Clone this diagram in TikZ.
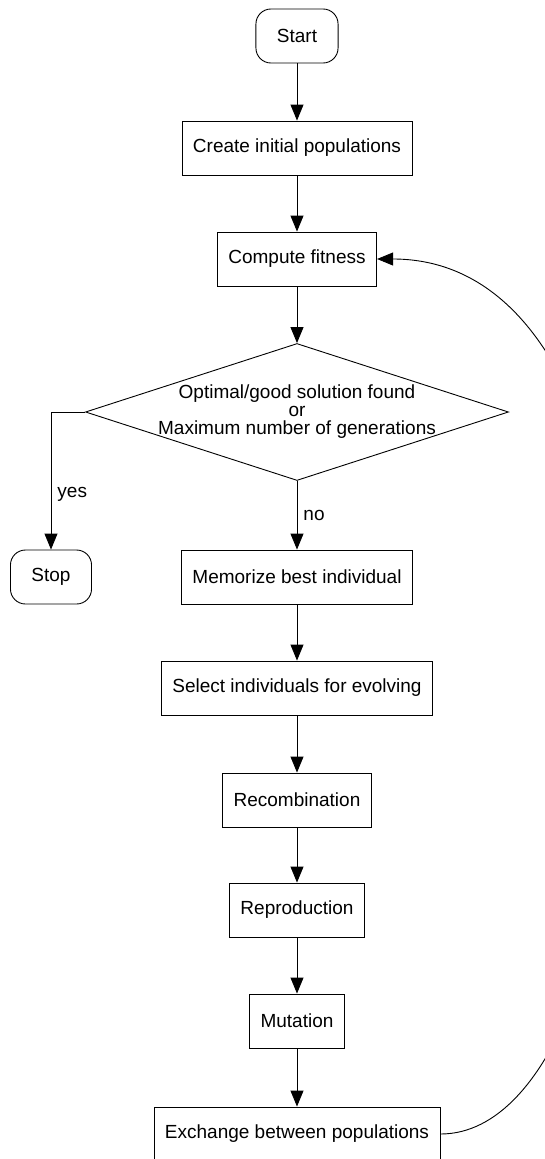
\documentclass[tikz,border=0pt]{standalone}
\usepackage{fontspec}
\setmainfont{Liberation Sans}
\usepackage{tikz}
\usetikzlibrary{calc, arrows.meta, shapes, positioning}
\newcommand{\flowfont}{\fontsize{19}{18}\selectfont}
\tikzset{
    shapenode/.style = {draw, rectangle, fill=none, line width=0.9pt, inner xsep=11pt, 
      minimum height=54pt, node distance=0em, font=\flowfont}, 
    roundnode/.style = {draw, rectangle, rounded corners=15pt, line width=0.9pt, inner xsep=21pt, 
      node distance=0em, minimum height=54pt, font=\flowfont},
    diamondnode/.style = {draw, diamond, line width=0.9pt, inner sep=0em, node distance=0em, 
      minimum width=423pt, minimum height=137pt},
    textnode/.style  = {draw=none, fill=none, rectangle, minimum size=0cm, inner sep = 0em, 
      node distance=0em, font=\flowfont},
    connect/.style = {black, line width=0.9pt, -{Triangle[length=16pt,width=13pt]}},
    every text node part/.style={align=center}
}

\begin{document}
\begin{tikzpicture}
\useasboundingbox (-297pt,36pt) rectangle (248pt,-1123pt);
\node[roundnode, name=start] {Start};
\node[shapenode, name=create, below of = start, yshift=-112pt] {Create initial populations};
\node[shapenode, name=fitness, below of = create, yshift=-111pt] {Compute fitness};
\node[diamondnode, name=decision, below of = fitness, yshift=-153pt] {};
\node[textnode, name=criterion] at (decision) {Optimal/good solution found\\or\\Maximum number of generations};
\node[shapenode, name=memorize, below of = decision, yshift=-165pt] {Memorize best individual};
\node[roundnode, name=stop, left of = memorize, xshift=-246pt] {Stop};
\node[shapenode, name=select, below of = memorize, yshift=-111pt] {Select individuals for evolving};
\node[shapenode, name=recomb, below of = select, yshift=-112pt] {Recombination};
\node[shapenode, name=repro, below of = recomb, yshift=-110pt] {Reproduction};
\node[shapenode, name=mutation, below of = repro, yshift=-111pt] {Mutation};
\node[shapenode, name=exchange, below of = mutation, yshift=-113pt] {Exchange between populations};
\draw[connect] (start) -- (create);
\draw[connect] (create) -- (fitness);
\draw[connect] (fitness) -- (decision.north);
\draw[connect] (decision.south) -- node[textnode, right, xshift=6pt] {no} (memorize);
\draw[connect] (decision.west) -| node[textnode, right, xshift=6pt, pos=0.8] {yes} (stop.north);
\draw[connect] (memorize) -- (select);
\draw[connect] (select) -- (recomb);
\draw[connect] (recomb) -- (repro);
\draw[connect] (repro) -- (mutation);
\draw[connect] (mutation) -- (exchange);
\draw[connect] (exchange.east) .. controls +(227pt,0) and +(342pt,0) .. (fitness.east);
\end{tikzpicture}
\end{document}
